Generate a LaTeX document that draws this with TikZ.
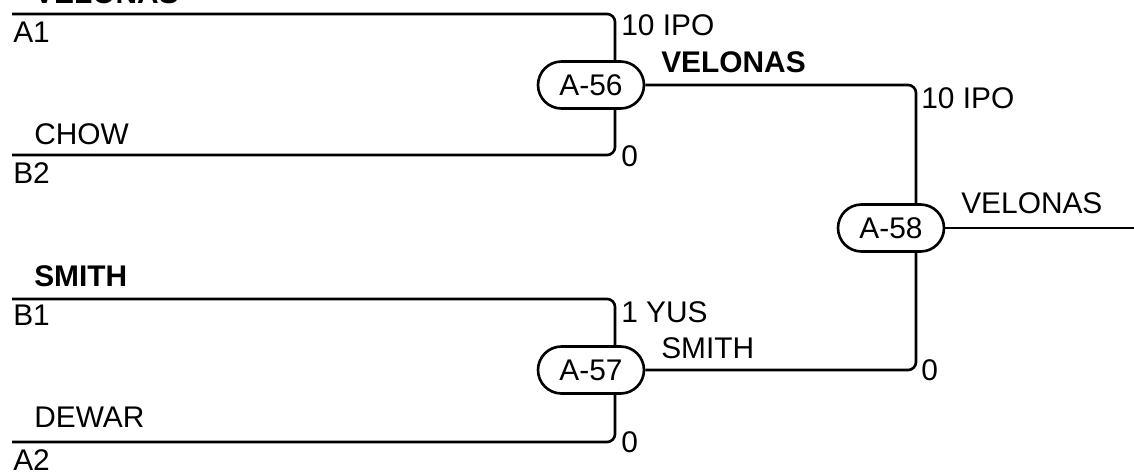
\documentclass[tikz,border=0pt]{standalone}
\usepackage{fontspec}
\setmainfont{Liberation Sans}
\usetikzlibrary{shapes.misc}

\begin{document}
\begin{tikzpicture}[x=0.02cm, y=-0.02cm, line width=1.5pt,
    match/.style={draw, rounded rectangle, minimum width=2.12cm, minimum height=0.94cm, inner sep=0pt, font=\fontsize{17}{20}\selectfont},
    lbl/.style={anchor=base west, inner sep=0pt, font=\fontsize{17}{20}\selectfont},
    bracket/.style={rounded corners=4.5pt}]
    \useasboundingbox (0,0) rectangle (1134,471);

    % matches
    \node [match] (m56) at (591,85) {A-56};
    \node [match] (m57) at (591,370) {A-57};
    \node [match] (m58) at (891,228) {A-58};

    % slots
    \coordinate (A1) at (12,14);
    \coordinate (B2) at (12,155);
    \coordinate (B1) at (12,299);
    \coordinate (A2) at (12,442);
    \coordinate (final) at (1134,228);

    \draw [bracket] (A1) -| ([xshift=0.48cm]m56.north);
    \draw [bracket] (B2) -| ([xshift=0.48cm]m56.south);
    \draw [bracket] (B1) -| ([xshift=0.48cm]m57.north);
    \draw [bracket] (A2) -| ([xshift=0.48cm]m57.south);
    \draw [bracket] (m56.east) -| ([xshift=0.5cm]m58.north);
    \draw [bracket] (m57.east) -| ([xshift=0.5cm]m58.south);
    \draw (m58.east) -- (final);

    % names
    \node [lbl, font=\fontsize{17}{20}\selectfont\bfseries] (n1) at (33,3) {VELONAS};
    \node [lbl] (sA1) at (12,42) {A1};
    \node [lbl] (n2) at (33,144) {CHOW};
    \node [lbl] (sB2) at (12,183) {B2};
    \node [lbl, font=\fontsize{17}{20}\selectfont\bfseries] (n3) at (33,286) {SMITH};
    \node [lbl] (sB1) at (12,325) {B1};
    \node [lbl] (n4) at (33,427) {DEWAR};
    \node [lbl] (sA2) at (12,470) {A2};

    % scores
    \node [lbl] (s1) at (620,35) {10 IPO};
    \node [lbl, font=\fontsize{17}{20}\selectfont\bfseries] (w56) at (660,72) {VELONAS};
    \node [lbl] (s2) at (620,166) {0};
    \node [lbl] (s3) at (620,322) {1 YUS};
    \node [lbl] (w57) at (660,358) {SMITH};
    \node [lbl] (s4) at (620,452) {0};
    \node [lbl] (s5) at (920,108) {10 IPO};
    \node [lbl] (w58) at (960,213) {VELONAS};
    \node [lbl] (s6) at (920,380) {0};
\end{tikzpicture}
\end{document}
